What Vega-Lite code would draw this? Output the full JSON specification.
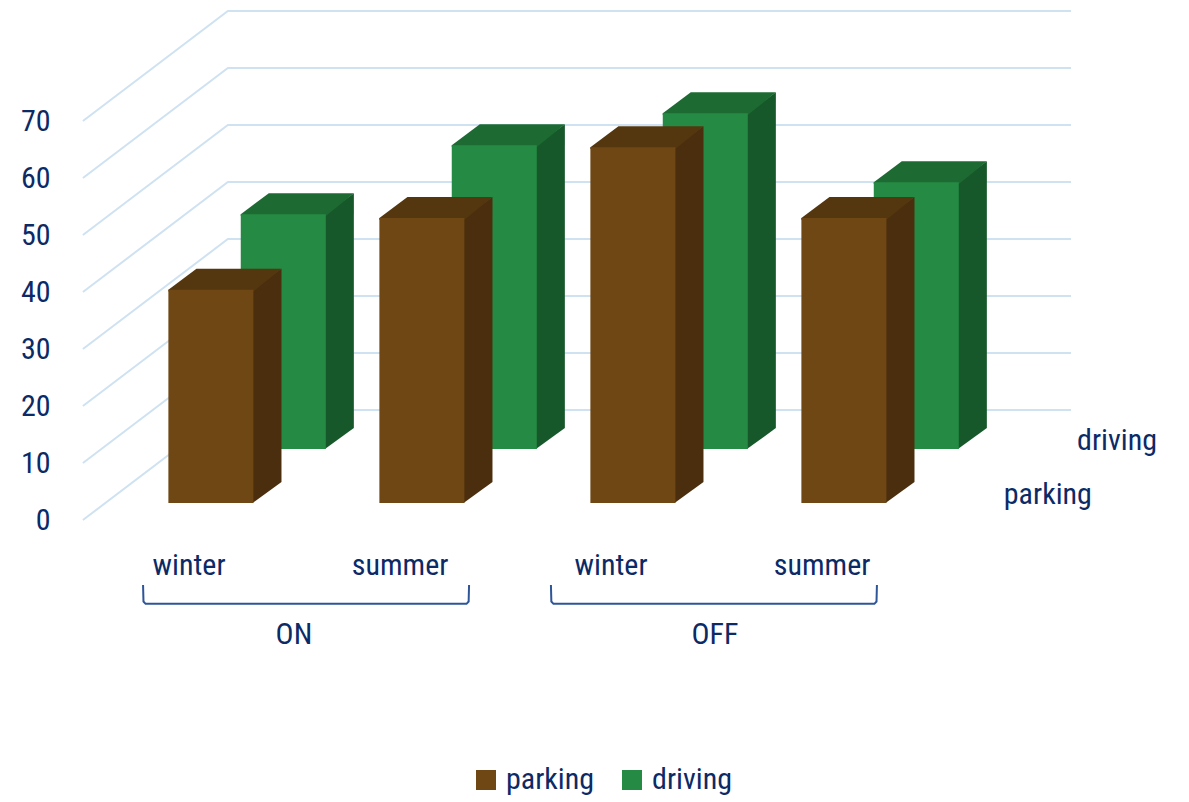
{
"$schema":"https://vega.github.io/schema/vega-lite/v6.json",
"width":1189,"height":802,"padding":0,"autosize":{"type":"none"},
"background":"white",
"config":{"view":{"stroke":null},"axisY":{"domain":false,"ticks":false,"grid":false,"offset":-50,"labelPadding":0,"labelFont":"Roboto Condensed","labelFontSize":30,"labelColor":"#0B2A66"}},
"datasets":{
"bars":[
{"group":"ON","season":"winter","series":"parking","value":37.4},
{"group":"ON","season":"summer","series":"parking","value":50},
{"group":"OFF","season":"winter","series":"parking","value":62.4},
{"group":"OFF","season":"summer","series":"parking","value":50},
{"group":"ON","season":"winter","series":"driving","value":41.2},
{"group":"ON","season":"summer","series":"driving","value":53.3},
{"group":"OFF","season":"winter","series":"driving","value":58.9},
{"group":"OFF","season":"summer","series":"driving","value":46.8}
],
"ticks":[{"tick":0},{"tick":10},{"tick":20},{"tick":30},{"tick":40},{"tick":50},{"tick":60},{"tick":70}],
"groups":[{"group":"ON"},{"group":"OFF"}],
"series":[{"series":"parking"},{"series":"driving"}]
},
"layer":[
{"data":{"name":"ticks"},
 "transform":[{"calculate":"[0,1,2]","as":"t"},{"flatten":["t"]},
  {"calculate":"[-0.403,0.284,4.28][datum.t]","as":"xp"},
  {"calculate":"datum.tick+[0,19.3,19.3][datum.t]","as":"yp"}],
 "mark":{"type":"line","color":"#CFE2F2","strokeWidth":2},
 "encoding":{
  "x":{"field":"xp","type":"quantitative","scale":{"domain":[-0.796,4.839]},"axis":null},
  "y":{"field":"yp","type":"quantitative","title":null,"scale":{"domain":[-49.47,91.23]},
   "axis":{"values":[0,10,20,30,40,50,60,70]}},
  "detail":{"field":"tick"}}},
{"data":{"name":"bars"},
 "transform":[
  {"calculate":"(datum.group=='ON'?0:2)+(datum.season=='winter'?0:1)","as":"slot"},
  {"calculate":"datum.slot+(datum.series=='driving'?0.345:0.002)","as":"sx"},
  {"calculate":"datum.sx+0.403","as":"sx2"},
  {"calculate":"2.98+(datum.series=='driving'?9.47:0)","as":"base"},
  {"calculate":"datum.base+datum.value","as":"top"},
  {"calculate":"datum.group+datum.season+datum.series","as":"id"}],
 "layer":[
  {"transform":[{"filter":"datum.series=='driving'"},{"calculate":"[0,1]","as":"t"},{"flatten":["t"]},
    {"calculate":"datum.sx2+[-0.004,0.133][datum.t]","as":"xp"},{"calculate":"datum.base+datum.t*3.68","as":"lo"},{"calculate":"datum.top+datum.t*3.68","as":"hi"}],
   "mark":{"type":"area","orient":"vertical","color":"#17582B"},
   "encoding":{"x":{"field":"xp","type":"quantitative","scale":{"domain":[-0.796,4.839]},"axis":null},"y":{"field":"lo","type":"quantitative","title":null,"stack":null,"scale":{"domain":[-49.47,91.23]}},"y2":{"field":"hi"},"detail":{"field":"id"}}},
  {"transform":[{"filter":"datum.series=='driving'"},{"calculate":"[0,1,2,3]","as":"t"},{"flatten":["t"]},
    {"calculate":"datum.sx+[0,0.133,0.403,0.536][datum.t]","as":"xp"},{"calculate":"datum.top+[-0.3,-0.3,-0.3,3.68][datum.t]","as":"lo"},{"calculate":"datum.top+[0,3.68,3.68,3.68][datum.t]","as":"hi"}],
   "mark":{"type":"area","orient":"vertical","color":"#1D6B33"},
   "encoding":{"x":{"field":"xp","type":"quantitative","scale":{"domain":[-0.796,4.839]},"axis":null},"y":{"field":"lo","type":"quantitative","title":null,"stack":null,"scale":{"domain":[-49.47,91.23]}},"y2":{"field":"hi"},"detail":{"field":"id"}}},
  {"transform":[{"filter":"datum.series=='driving'"}],
   "mark":{"type":"rect"},
   "encoding":{"x":{"field":"sx","type":"quantitative","scale":{"domain":[-0.796,4.839]},"axis":null},"x2":{"field":"sx2"},"y":{"field":"base","type":"quantitative","title":null,"scale":{"domain":[-49.47,91.23]}},"y2":{"field":"top"},
    "color":{"field":"series","type":"nominal","scale":{"domain":["parking","driving"],"range":["#6E4714","#258A43"]},
     "legend":{"title":null,"orient":"none","legendX":471,"legendY":765,"direction":"horizontal","symbolType":"square","symbolSize":400,"symbolStrokeWidth":0,"labelFont":"Roboto Condensed","labelFontSize":30,"labelColor":"#0B2A66","labelOffset":5,"columnPadding":22,"symbolOpacity":1}}}},
  {"transform":[{"filter":"datum.series=='parking'"},{"calculate":"[0,1]","as":"t"},{"flatten":["t"]},
    {"calculate":"datum.sx2+[-0.004,0.133][datum.t]","as":"xp"},{"calculate":"datum.base+datum.t*3.68","as":"lo"},{"calculate":"datum.top+datum.t*3.68","as":"hi"}],
   "mark":{"type":"area","orient":"vertical","color":"#4A2E0D"},
   "encoding":{"x":{"field":"xp","type":"quantitative","scale":{"domain":[-0.796,4.839]},"axis":null},"y":{"field":"lo","type":"quantitative","title":null,"stack":null,"scale":{"domain":[-49.47,91.23]}},"y2":{"field":"hi"},"detail":{"field":"id"}}},
  {"transform":[{"filter":"datum.series=='parking'"},{"calculate":"[0,1,2,3]","as":"t"},{"flatten":["t"]},
    {"calculate":"datum.sx+[0,0.133,0.403,0.536][datum.t]","as":"xp"},{"calculate":"datum.top+[-0.3,-0.3,-0.3,3.68][datum.t]","as":"lo"},{"calculate":"datum.top+[0,3.68,3.68,3.68][datum.t]","as":"hi"}],
   "mark":{"type":"area","orient":"vertical","color":"#55370F"},
   "encoding":{"x":{"field":"xp","type":"quantitative","scale":{"domain":[-0.796,4.839]},"axis":null},"y":{"field":"lo","type":"quantitative","title":null,"stack":null,"scale":{"domain":[-49.47,91.23]}},"y2":{"field":"hi"},"detail":{"field":"id"}}},
  {"transform":[{"filter":"datum.series=='parking'"}],
   "mark":{"type":"rect"},
   "encoding":{"x":{"field":"sx","type":"quantitative","scale":{"domain":[-0.796,4.839]},"axis":null},"x2":{"field":"sx2"},"y":{"field":"base","type":"quantitative","title":null,"scale":{"domain":[-49.47,91.23]}},"y2":{"field":"top"},
    "color":{"field":"series","type":"nominal","scale":{"domain":["parking","driving"],"range":["#6E4714","#258A43"]}}}},
  {"transform":[{"filter":"datum.series=='parking'"},
    {"calculate":"datum.slot+0.1","as":"lx"},{"calculate":"-8.07","as":"ly"}],
   "mark":{"type":"text","fontSize":30,"color":"#0B2A66","font":"Roboto Condensed","align":"center","baseline":"middle"},
   "encoding":{"x":{"field":"lx","type":"quantitative","scale":{"domain":[-0.796,4.839]},"axis":null},"y":{"field":"ly","type":"quantitative","title":null,"scale":{"domain":[-49.47,91.23]}},"text":{"field":"season"}}}
 ]},
{"data":{"name":"groups"},
 "transform":[{"calculate":"datum.group=='ON'?-0.118:1.815","as":"l"},{"calculate":"[0,1,2,3,4,5]","as":"t"},{"flatten":["t"]},
  {"calculate":"datum.l+[0,0.002,0.012,1.533,1.543,1.545][datum.t]","as":"xp"},
  {"calculate":"[-11.4,-14.3,-14.7,-14.7,-14.3,-11.4][datum.t]","as":"yp"}],
 "mark":{"type":"line","color":"#2E5597","strokeWidth":2},
 "encoding":{"x":{"field":"xp","type":"quantitative","scale":{"domain":[-0.796,4.839]},"axis":null},"y":{"field":"yp","type":"quantitative","title":null,"scale":{"domain":[-49.47,91.23]}},"detail":{"field":"group"},"order":{"field":"t"}}},
{"data":{"name":"groups"},
 "transform":[{"calculate":"datum.group=='ON'?0.597:2.592","as":"lx"},{"calculate":"-20.18","as":"ly"}],
 "mark":{"type":"text","fontSize":30,"color":"#0B2A66","font":"Roboto Condensed","align":"center","baseline":"middle"},
 "encoding":{"x":{"field":"lx","type":"quantitative","scale":{"domain":[-0.796,4.839]},"axis":null},"y":{"field":"ly","type":"quantitative","title":null,"scale":{"domain":[-49.47,91.23]}},"text":{"field":"group"}}},
{"data":{"name":"series"},
 "transform":[{"calculate":"datum.series=='parking'?4.17:4.498","as":"lx"},{"calculate":"datum.series=='parking'?4.39:13.86","as":"ly"}],
 "mark":{"type":"text","fontSize":30,"color":"#0B2A66","font":"Roboto Condensed","align":"center","baseline":"middle"},
 "encoding":{"x":{"field":"lx","type":"quantitative","scale":{"domain":[-0.796,4.839]},"axis":null},"y":{"field":"ly","type":"quantitative","title":null,"scale":{"domain":[-49.47,91.23]}},"text":{"field":"series"}}}
]
}
